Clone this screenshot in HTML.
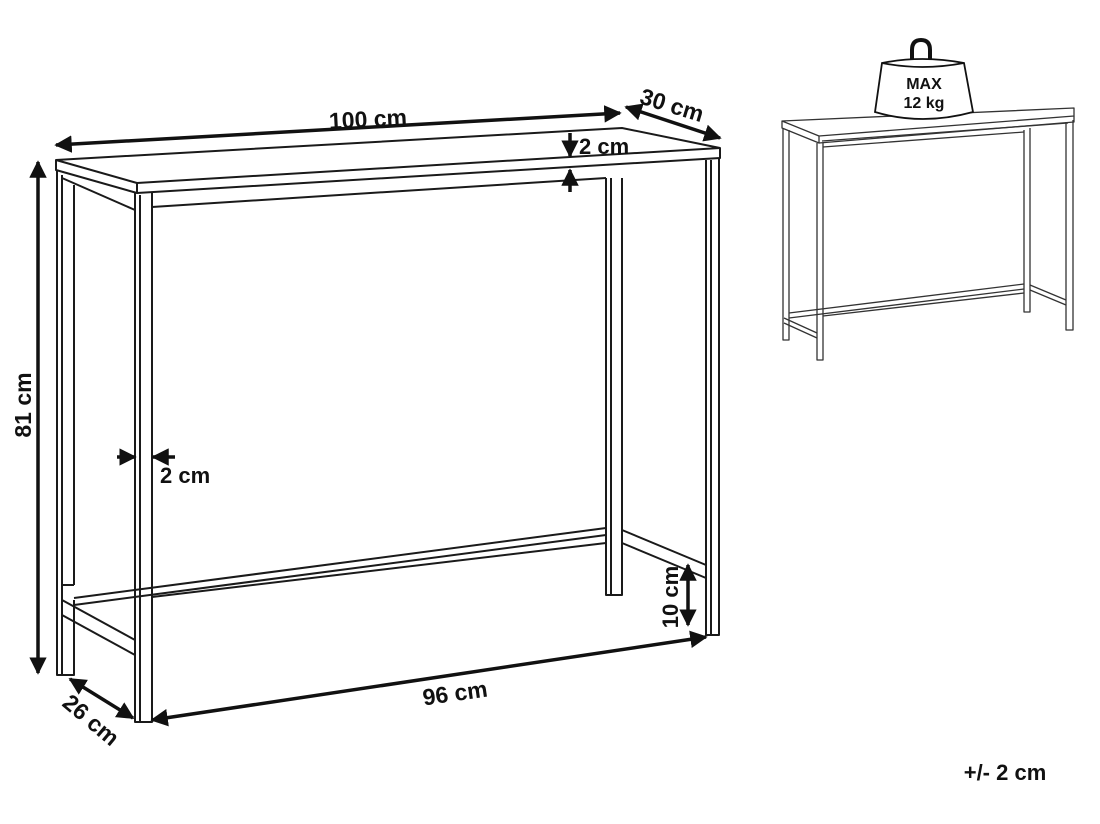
<!DOCTYPE html>
<html><head><meta charset="utf-8"><style>
html,body{margin:0;padding:0;background:#fff;}
svg{display:block;}
text{font-family:"Liberation Sans",sans-serif;font-weight:bold;fill:#111;}
</style></head><body>
<svg width="1100" height="824" viewBox="0 0 1100 824" xmlns="http://www.w3.org/2000/svg">
<defs>
<marker id="a" viewBox="0 0 10 10" refX="9" refY="5" markerWidth="5" markerHeight="5" orient="auto-start-reverse"><path d="M0,0 L10,5 L0,10 z" fill="#111"/></marker>
</defs>
<g fill="none" stroke="#1a1a1a" stroke-width="2" stroke-linejoin="round">
<path d="M56,160 L622,128 L720,148 L720,158 L137,193 L137,183 L56,160 L56,170 L137,193"/>
<path d="M137,183 L720,148"/>
<path d="M152,207 L606,178"/>
<path d="M62,178 L135,210"/>
<path d="M57,170 L57,675 L74,675 L74,600"/>
<path d="M62,175 L62,675"/>
<path d="M74,185 L74,585"/>
<path d="M135,193 L135,722 L152,722 L152,193"/>
<path d="M140,195 L140,722"/>
<path d="M606,178 L606,595 L622,595 L622,178"/>
<path d="M611,178 L611,595"/>
<path d="M706,160 L706,635 L719,635 L719,158"/>
<path d="M711,160 L711,635"/>
<path d="M74,598 L606,528"/>
<path d="M74,605 L606,535"/>
<path d="M152,597 L606,543"/>
<path d="M62,600 L135,640"/>
<path d="M62,615 L135,655"/>
<path d="M622,530 L706,565"/>
<path d="M622,543 L706,578"/>
<path d="M62,585 L74,585"/>
</g>
<g stroke="#111" stroke-width="3.5" fill="none">
<line x1="56" y1="145" x2="620" y2="113" marker-start="url(#a)" marker-end="url(#a)"/>
<line x1="626" y1="107" x2="720" y2="138" marker-start="url(#a)" marker-end="url(#a)"/>
<line x1="38" y1="162" x2="38" y2="673" marker-start="url(#a)" marker-end="url(#a)"/>
<line x1="152" y1="720" x2="706" y2="637" marker-start="url(#a)" marker-end="url(#a)"/>
<line x1="70" y1="679" x2="133" y2="718" marker-start="url(#a)" marker-end="url(#a)"/>
<line x1="688" y1="565" x2="688" y2="625" marker-start="url(#a)" marker-end="url(#a)"/>
<line x1="570" y1="133" x2="570" y2="156" marker-end="url(#a)"/>
<line x1="570" y1="192" x2="570" y2="170" marker-end="url(#a)"/>
<line x1="117" y1="457" x2="135" y2="457" marker-end="url(#a)"/>
<line x1="175" y1="457" x2="153" y2="457" marker-end="url(#a)"/>
</g>
<text x="368" y="127" font-size="23" text-anchor="middle" transform="rotate(-3 368 120)">100 cm</text>
<text x="672" y="113" font-size="23" text-anchor="middle" transform="rotate(17 672 105)">30 cm</text>
<text x="579" y="154" font-size="22">2 cm</text>
<text x="160" y="483" font-size="22">2 cm</text>
<text x="0" y="0" font-size="23" text-anchor="middle" transform="translate(31,405) rotate(-90)">81 cm</text>
<text x="0" y="0" font-size="22" text-anchor="middle" transform="translate(678,597) rotate(-90)">10 cm</text>
<text x="455" y="701" font-size="23" text-anchor="middle" transform="rotate(-8 455 693)">96 cm</text>
<text x="0" y="0" font-size="23" text-anchor="middle" transform="translate(86,726) rotate(40)">26 cm</text>
<text x="1005" y="780" font-size="22" text-anchor="middle">+/- 2 cm</text>
<g fill="none" stroke="#333" stroke-width="1.3" stroke-linejoin="round">
<path d="M782,121 L1074,108 L1074,116 L819,136 L782,121 L782,128 L819,143 L819,136"/>
<path d="M819,143 L1074,122 L1074,116"/>
<path d="M822,141 L1068,123"/>
<path d="M823,147 L1024,132"/>
<path d="M783,128 L783,340 L789,340 L789,130"/>
<path d="M817,143 L817,360 L823,360 L823,143"/>
<path d="M1024,130 L1024,312 L1030,312 L1030,128"/>
<path d="M1066,122 L1066,330 L1073,330 L1073,120"/>
<path d="M789,313 L1024,284"/>
<path d="M789,318 L1024,289"/>
<path d="M823,316 L1024,293"/>
<path d="M784,318 L817,333"/>
<path d="M784,323 L817,338"/>
<path d="M1030,285 L1066,300"/>
<path d="M1030,290 L1066,305"/>
</g>
<g stroke="#111" stroke-width="1.8" fill="#fff">
<path d="M912,64 L912,50 Q912,40 921,40 Q930,40 930,50 L930,64" fill="none" stroke-width="4"/>
<path d="M882,63 Q922,55 964,63 L973,112 Q922,126 875,112 Z"/>
<path d="M882,63 Q922,71 964,63" fill="none"/>
</g>
<text x="924" y="89" font-size="16" text-anchor="middle">MAX</text>
<text x="924" y="108" font-size="16" text-anchor="middle">12 kg</text>
</svg>
</body></html>
